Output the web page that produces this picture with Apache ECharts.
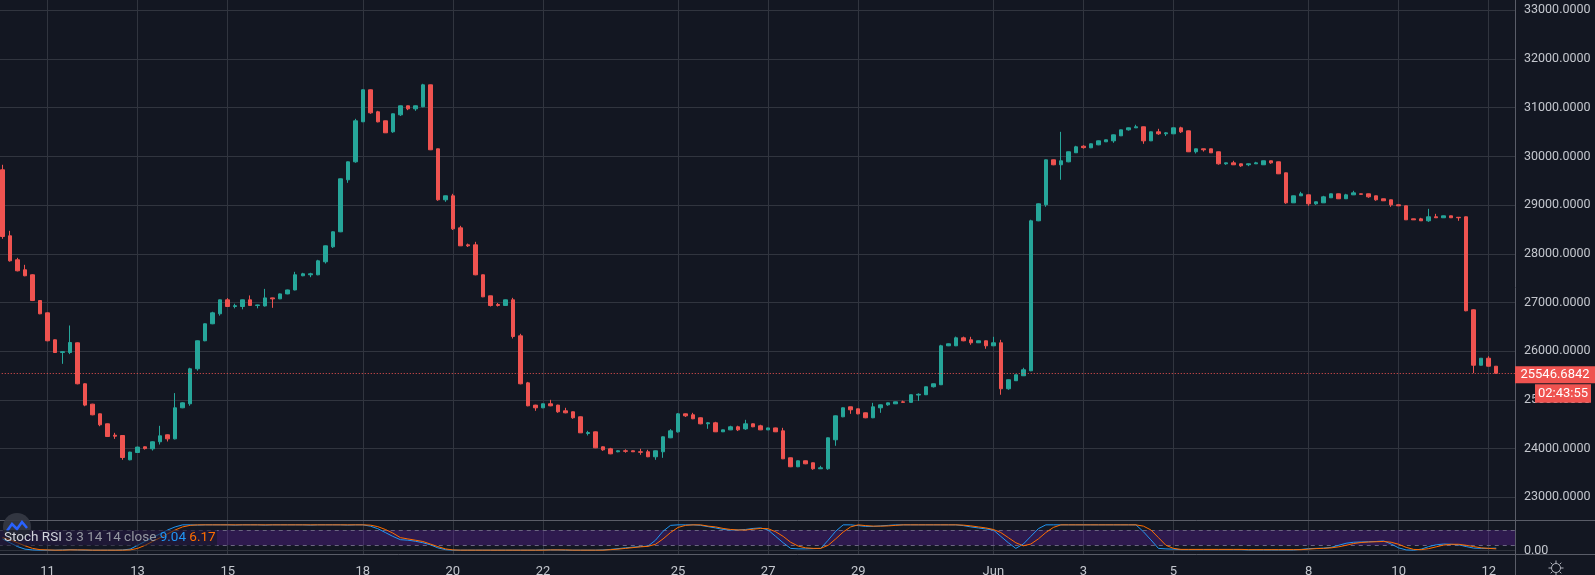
<!DOCTYPE html>
<html><head><meta charset="utf-8">
<script src="https://cdn.jsdelivr.net/npm/echarts@6/dist/echarts.min.js"></script>
<style>html,body{margin:0;padding:0;background:#131722;overflow:hidden}#c{width:1595px;height:575px}</style>
</head><body><div id="c"></div>
<script>
// ---- categories (4h candles) ----
const days = ['05-10','05-11','05-12','05-13','05-14','05-15','05-16','05-17','05-18','05-19','05-20','05-21','05-22','05-23','05-24','05-25','05-26','05-27','05-28','05-29','05-30','05-31','06-01','06-02','06-03','06-04','06-05','06-06','06-07','06-08','06-09','06-10','06-11','06-12'];
const hours = ['00:00','04:00','08:00','12:00','16:00','20:00'];
const categories = [];
days.forEach(d => hours.forEach(h => categories.push(d + ' ' + h)));
categories.length = 202; // 200 candles + 2 empty future slots

const tickDays = ['05-11','05-13','05-15','05-18','05-20','05-22','05-25','05-27','05-29','06-01','06-03','06-05','06-08','06-10','06-12'];
const tickLabels = ['11','13','15','18','20','22','25','27','29','Jun','3','5','8','10','12'];
const priceTicks = [23000,24000,25000,26000,27000,28000,29000,30000,31000,32000,33000];

// ---- OHLC ----
const opens = [29725,28370,27877,27672,27569,27041,26788,26234,25975,25973,
26172,25331,24913,24714,24509,24275,24269,23770,23920,24037,
23996,24140,24283,24200,24838,24920,25639,26214,26563,26768,
27055,26918,26918,27055,26940,26930,27095,27075,27177,27258,
27549,27569,27569,27836,28144,28452,29520,29889,30711,31368,
30916,30731,30505,30854,31039,30977,31019,31470,30156,29109,
29191,28533,28184,28184,27569,27137,26960,26940,27055,26316,
25350,24893,24838,24920,24893,24776,24756,24653,24310,24344,
24037,23996,23935,23955,23955,23935,23935,23832,23935,24222,
24344,24714,24694,24633,24510,24530,24345,24385,24448,24405,
24509,24468,24385,24425,24365,23811,23627,23750,23709,23586,
23586,24181,24653,24858,24817,24735,24633,24838,24899,24920,
24960,24950,25100,25106,25270,25311,26111,26111,26275,26234,
26173,26214,26111,26173,25229,25394,25496,25598,28678,29007,
29930,29828,29889,30075,30210,30177,30238,30300,30320,30423,
30546,30587,30608,30320,30505,30464,30464,30587,30525,30095,
30156,30156,30095,29848,29868,29848,29828,29848,29828,29910,
29889,29663,29047,29191,29211,29027,29047,29150,29232,29130,
29211,29232,29232,29191,29130,29109,29006,28986,28718,28718,
28678,28760,28740,28780,28750,28760,26850,25712,25856,25692];
const closes = [28355,27856,27651,27549,27041,26768,26214,25973,25990,26179,
25331,24893,24694,24489,24248,24255,23817,23928,24031,24000,
24140,24263,24200,24838,24940,25639,26214,26563,26788,27055,
26918,26935,27055,26940,26950,27095,27075,27177,27258,27569,
27590,27590,27856,28164,28452,29540,29889,30731,31368,30895,
30710,30485,30875,31039,30977,31039,31470,30136,29109,29191,
28513,28164,28164,27569,27117,26938,26940,27055,26302,25331,
24879,24838,24920,24879,24756,24735,24633,24324,24330,24016,
23975,23893,23955,23945,23935,23925,23832,23955,24242,24365,
24714,24673,24612,24509,24530,24345,24385,24448,24385,24509,
24448,24385,24425,24345,23790,23627,23750,23688,23586,23606,
24222,24673,24838,24797,24714,24633,24858,24899,24940,24960,
24950,25106,25115,25270,25331,26111,26152,26275,26214,26173,
26214,26111,26173,25229,25414,25516,25619,28678,29027,29930,
29828,29910,30095,30197,30180,30259,30320,30341,30443,30546,
30587,30608,30320,30505,30464,30484,30587,30505,30095,30156,
30136,30074,29848,29868,29828,29807,29848,29868,29910,29868,
29643,29047,29191,29232,29027,29068,29170,29232,29130,29211,
29252,29222,29170,29109,29089,29006,28986,28698,28698,28678,
28760,28740,28780,28740,28740,26830,25712,25856,25692,25546.6842];
const lows = [28308,27840,27640,27540,27030,26760,26205,25965,25741,25940,
25320,24870,24685,24460,24240,24200,23770,23760,23915,23980,
23960,24084,24146,24190,24830,24880,25600,26205,26555,26730,
26910,26880,26860,26930,26880,26918,26891,27070,27170,27250,
27540,27520,27560,27800,28120,28445,29458,29870,30705,30875,
30700,30480,30485,30830,30950,30936,31010,30130,29089,29068,
28490,28160,28140,27560,27110,26918,26918,26935,26261,25320,
24870,24776,24830,24870,24735,24725,24612,24320,24270,24010,
23955,23885,23925,23915,23930,23873,23825,23770,23811,24215,
24330,24650,24605,24500,24407,24340,24340,24380,24360,24385,
24440,24380,24380,24340,23785,23620,23620,23680,23565,23580,
23565,24058,24645,24714,24705,24625,24625,24735,24880,24915,
24945,24945,24980,25100,25255,25305,26105,26105,26205,26132,
26168,26050,26105,25106,25208,25390,25490,25590,28670,28965,
29820,29520,29880,30070,30160,30170,30230,30295,30280,30418,
30530,30582,30259,30315,30443,30420,30460,30480,30090,30060,
30100,30070,29830,29828,29824,29785,29800,29844,29824,29848,
29638,29027,29043,29187,28986,29006,29043,29146,29126,29126,
29207,29218,29150,29089,29085,28965,28982,28694,28694,28674,
28657,28736,28736,28736,28678,26820,25548,25708,25688,25540];
const highs = [29828,28472,27918,27774,27580,27050,26795,26240,25998,26528,
26180,25340,24920,24720,24515,24324,24275,23935,24040,24045,
24150,24468,24290,25140,24950,25660,26220,26570,26810,27060,
27090,26975,27060,27145,26955,27280,27100,27185,27265,27630,
27610,27610,27877,28170,28460,29545,29895,30772,31375,31375,
30936,30735,30880,31045,31045,31045,31491,31475,30160,29195,
29232,28575,28210,28246,27575,27140,26990,27060,27096,26357,
25370,24900,24925,25002,24900,24838,24760,24660,24365,24350,
24045,24016,23965,23985,23960,23996,23975,23960,24250,24400,
24730,24720,24735,24640,24545,24550,24390,24470,24470,24591,
24515,24490,24430,24430,24427,23815,23755,23755,23712,23647,
24228,24680,24845,24862,24820,24740,24940,24905,24945,24965,
24985,25110,25135,25275,25335,26132,26158,26300,26300,26296,
26220,26220,26296,26234,25420,25520,25660,28700,29035,29935,
29935,30505,30100,30218,30230,30265,30325,30345,30448,30550,
30592,30650,30612,30510,30567,30500,30592,30610,30530,30160,
30160,30160,30100,29872,29910,29852,29852,29889,29914,29914,
29893,29668,29195,29273,29215,29072,29191,29236,29236,29232,
29294,29236,29236,29195,29134,29113,29010,28990,28722,28739,
28924,28821,28784,28784,28754,28765,26860,25860,25897,25696];

// ---- Stoch RSI ----
const kVals = [45,30,15,5,2,1,1,1,2,3,
2,1,1,1,1,1,2,5,20,35,
50,65,80,92,100,100,99,100,100,100,
100,99,100,100,100,99,100,100,100,100,
100,99,100,100,100,100,99,100,100,95,
85,70,55,42,40,36,30,22,10,3,
1,1,1,1,1,1,1,1,1,1,
1,1,2,2,2,1,1,1,1,1,
2,4,7,10,13,15,17,40,75,98,
100,100,100,98,93,88,82,80,80,82,
86,88,80,55,30,8,6,6,7,8,
40,75,100,100,97,94,94,96,98,100,
100,100,100,100,100,100,100,100,97,92,
88,84,80,55,30,8,25,55,85,100,
100,100,100,100,100,100,100,100,100,100,
100,100,73,41,8,6,5,3,3,3,
3,3,3,3,3,3,2,2,2,2,
2,2,2,4,7,8,9,12,20,28,
32,33,34,35,37,25,10,2,1,5,
15,22,25,24,22,15,9,8,8,9.04];
const dVals = [50,42,30,18,8,3,2,1,1,2,
2,2,1,1,1,1,1,2,8,20,
35,50,65,80,92,98,100,100,100,100,
100,100,100,100,100,100,100,100,100,100,
100,100,100,100,100,100,100,100,100,99,
93,82,68,50,45,40,35,25,15,6,
2,1,1,1,1,1,1,1,1,1,
1,1,1,2,2,2,1,1,1,1,
1,3,5,8,11,14,16,24,45,70,
90,98,100,100,95,92,86,82,80,80,
83,86,85,73,55,32,17,10,8,8,
20,45,72,92,100,97,95,95,96,98,
100,100,100,100,100,100,100,100,99,96,
92,88,82,70,50,30,18,25,45,70,
90,100,100,100,100,100,100,100,100,100,
100,100,95,80,50,20,8,4,4,4,
4,4,4,4,4,4,3,3,3,3,
3,3,3,3,5,7,8,10,14,20,
27,31,33,34,35,32,24,12,4,3,
7,14,21,24,24,20,15,10,8,6.17];
const stochLevels = [20, 80];
const countdown = '02:43:55';

// ---- build ----
const candleData = opens.map((o, i) => [o, closes[i], lows[i], highs[i]]);
const lastClose = closes[closes.length - 1];
const tickCats = tickDays.map(d => d + ' 00:00');
const isTick = (idx, val) => tickCats.indexOf(val) >= 0;
const FONT = 'Roboto, "Noto Sans", sans-serif';
const GRIDC = '#31353f';
const SEP = '#5a5d68';
const LBL = '#c4c7ce';

const chart = echarts.init(document.getElementById('c'), null, {renderer: 'canvas'});
const xBase = (gi, showLabels) => ({
  type: 'category', gridIndex: gi, data: categories, boundaryGap: true,
  axisLine: {show: false}, axisTick: {show: false},
  axisLabel: showLabels ? {
    show: true, interval: isTick, color: LBL, fontSize: 13, fontFamily: FONT, margin: 11,
    formatter: v => tickLabels[tickCats.indexOf(v)] || ''
  } : {show: false},
  splitLine: {show: true, interval: isTick, alignWithLabel: true, lineStyle: {color: GRIDC, width: 1}}
});

chart.setOption({
  backgroundColor: '#131722',
  animation: false,
  grid: [
    {left: -1.25, right: 80, top: 0, height: 520, outerBoundsMode: 'none', containLabel: false},
    {left: -1.25, right: 80, top: 520, height: 34, outerBoundsMode: 'none', containLabel: false}
  ],
  xAxis: [xBase(0, false), xBase(1, true)],
  yAxis: [
    {type: 'value', gridIndex: 0, position: 'right', min: 22534, max: 33212, splitNumber: 10,
     axisLine: {show: false}, axisTick: {show: false},
     axisLabel: {color: LBL, fontSize: 12.5, fontFamily: FONT, margin: 9, showMinLabel: false, showMaxLabel: false,
       formatter: v => priceTicks.indexOf(v) >= 0 ? v.toFixed(4) : ''},
     splitLine: {show: true, showMinLine: false, showMaxLine: false, lineStyle: {color: GRIDC}}},
    {type: 'value', gridIndex: 1, position: 'right', min: -14, max: 119, splitNumber: 1,
     axisLine: {show: false}, axisTick: {show: false},
     axisLabel: {color: LBL, fontSize: 12.5, fontFamily: FONT, margin: 9, showMinLabel: false, showMaxLabel: false,
       formatter: v => v === 0 ? '0.00' : ''},
     splitLine: {show: false}}
  ],
  series: [
    {type: 'candlestick', xAxisIndex: 0, yAxisIndex: 0, data: candleData, barWidth: 4, z: 3,
     itemStyle: {color: '#26a69a', color0: '#ef5350', borderColor: '#26a69a', borderColor0: '#ef5350', borderWidth: 1},
     markLine: {silent: true, symbol: 'none', z: 4, label: {show: false},
       lineStyle: {color: '#ef5350', type: [1, 2], width: 1},
       data: [{yAxis: lastClose}]}},
    {type: 'line', name: 'K', xAxisIndex: 1, yAxisIndex: 1, data: kVals, showSymbol: false, z: 3,
     lineStyle: {color: '#2196f3', width: 1}, itemStyle: {color: '#2196f3'},
     markArea: {silent: true, z: 1, itemStyle: {color: 'rgba(126,36,210,0.25)'},
       data: [[{yAxis: stochLevels[0]}, {yAxis: stochLevels[1]}]]},
     markLine: {silent: true, symbol: 'none', z: 2, label: {show: false},
       data: [
         {yAxis: stochLevels[0], lineStyle: {color: '#6a6480', type: [4, 4], width: 1}},
         {yAxis: stochLevels[1], lineStyle: {color: '#6a6480', type: [4, 4], width: 1}},
         {yAxis: 0, lineStyle: {color: GRIDC, type: 'solid', width: 1}}
       ]}},
    {type: 'line', name: 'D', xAxisIndex: 1, yAxisIndex: 1, data: dVals, showSymbol: false, z: 4,
     lineStyle: {color: '#ff6d00', width: 1}, itemStyle: {color: '#ff6d00'}}
  ]
});

const yPrice = chart.convertToPixel({yAxisIndex: 0}, lastClose);
const gear = [];
for (let a = 0; a < 8; a++) {
  const t = a * Math.PI / 4;
  gear.push({type: 'line', shape: {x1: 1556 + 5 * Math.cos(t), y1: 568 + 5 * Math.sin(t), x2: 1556 + 7.5 * Math.cos(t), y2: 568 + 7.5 * Math.sin(t)},
    style: {stroke: '#b2b5be', lineWidth: 1}});
}
chart.setOption({
  graphic: [
    {type: 'line', z: 50, shape: {x1: 0, y1: 520.5, x2: 1595, y2: 520.5}, style: {stroke: SEP, lineWidth: 1}},
    {type: 'line', z: 50, shape: {x1: 0, y1: 554.5, x2: 1595, y2: 554.5}, style: {stroke: SEP, lineWidth: 1}},
    {type: 'line', z: 50, shape: {x1: 1515.5, y1: 0, x2: 1515.5, y2: 575}, style: {stroke: SEP, lineWidth: 1}},
    {type: 'rect', z: 60, shape: {x: 1515, y: yPrice - 7, width: 80, height: 17}, style: {fill: '#ef5350'}},
    {type: 'text', z: 61, x: 1555, y: yPrice + 1.5, style: {text: lastClose.toFixed(4), fill: '#ffffff', font: '13px ' + FONT, align: 'center', verticalAlign: 'middle'}},
    {type: 'rect', z: 60, shape: {x: 1535, y: yPrice + 11, width: 56, height: 18.5}, style: {fill: '#ef5350'}},
    {type: 'text', z: 61, x: 1563, y: yPrice + 20.5, style: {text: countdown, fill: '#ffffff', font: '13px ' + FONT, align: 'center', verticalAlign: 'middle'}},
    {type: 'circle', z: 55, shape: {cx: 17, cy: 527, r: 14}, style: {fill: 'rgba(54,58,69,0.9)'}},
    {type: 'polyline', z: 56, shape: {points: [[7, 531], [12, 524], [17, 529], [22, 522], [27, 528]]}, style: {stroke: '#2962ff', lineWidth: 2.5, fill: null}},
    {type: 'rect', z: 57, shape: {x: 0, y: 530, width: 217, height: 16}, style: {fill: 'rgba(19,23,34,0.55)'}},
    {type: 'text', z: 58, x: 4, y: 538, style: {
      text: '{a|Stoch RSI} {b|3 3 14 14 close} {c|' + kVals[kVals.length - 1].toFixed(2) + '} {d|' + dVals[dVals.length - 1].toFixed(2) + '}',
      verticalAlign: 'middle', font: '13.5px ' + FONT,
      rich: {a: {fill: '#d1d4dc', fontSize: 13.5, fontFamily: FONT}, b: {fill: '#9598a1', fontSize: 13.5, fontFamily: FONT},
             c: {fill: '#2196f3', fontSize: 13.5, fontFamily: FONT}, d: {fill: '#ff6d00', fontSize: 13.5, fontFamily: FONT}}}},
    {type: 'circle', z: 55, shape: {cx: 1556, cy: 568, r: 4.5}, style: {fill: 'none', stroke: '#b2b5be', lineWidth: 1}}
  ].concat(gear)
});
</script>
</body></html>
